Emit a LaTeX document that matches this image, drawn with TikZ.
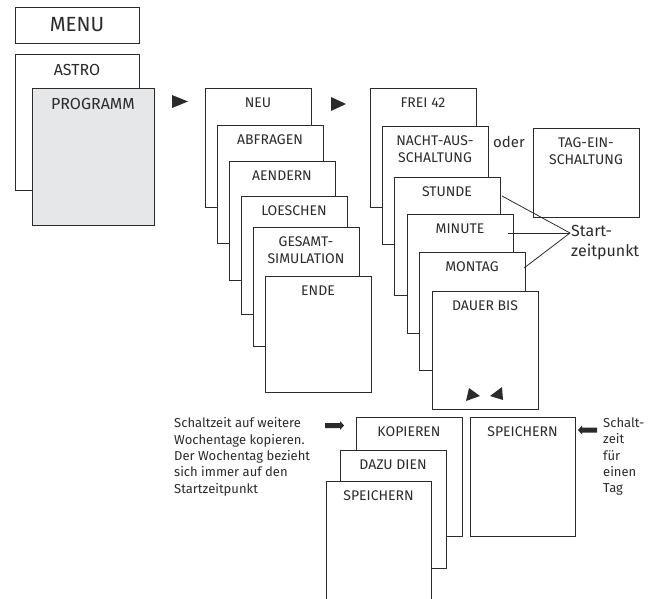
\documentclass[tikz,border=0pt]{standalone}
\usepackage{fontspec}
\setmainfont{Fira Sans}
\definecolor{ln}{HTML}{2B2B2B}
\definecolor{gfill}{HTML}{E6E7E8}
\tikzset{
  boxst/.style={draw=ln, line width=0.9pt, fill=white, rectangle, inner sep=0pt},
  lab/.style={anchor=north, inner sep=0pt, align=center, font=\fontsize{14}{17}\selectfont, text=ln},
  tri/.style={fill=ln, draw=none},
  note/.style={inner sep=0pt, text=ln, font=\fontsize{13}{16.3}\selectfont},
}
% name, x1, y1, x2, y2, label
\newcommand\mybox[6]{%
  \node[boxst, minimum width={#4-#2}, minimum height={#5-#3}] (#1) at ({(#2+#4)/2},{(#3+#5)/2}) {};
  \node[lab] (#1-t) at ({(#2+#4)/2},{#3+9.5}) {#6};
}
\begin{document}
\begin{tikzpicture}[x=1pt,y=-1pt]
\useasboundingbox (0,0) rectangle (658,599);
\clip (0,0) rectangle (658,599);
% left column
\node[boxst, minimum width=124, minimum height=36] (menu) at (77,25) {};
\node[inner sep=0pt, font=\fontsize{20.5}{24}\selectfont, text=ln] (menu-t) at (77,25) {MENU};
\node[boxst, minimum width=124, minimum height=136] (astro) at (77,122) {};
\node[lab, font=\fontsize{16}{19}\selectfont] (astro-t) at (77,64) {ASTRO};
\node[boxst, fill=gfill, minimum width=122, minimum height=137] (prog) at (93,156.5) {};
\node[lab, font=\fontsize{16}{19}\selectfont] (prog-t) at (93,98.5) {PROGRAMM};
\fill[tri] (172,95) -- (188,101.5) -- (172,108) -- cycle;
% second column
\mybox{neu}{205}{88}{311}{207}{NEU}
\mybox{abfr}{217}{125}{323}{243}{ABFRAGEN}
\mybox{aend}{229}{161}{335}{280}{AENDERN}
\mybox{loes}{241}{196}{347}{314}{LOESCHEN}
\mybox{gesamt}{253}{227}{359}{346}{GESAMT-\\SIMULATION}
\mybox{ende}{265}{276}{371}{392}{ENDE}
\fill[tri] (331,97) -- (346,104) -- (331,111) -- cycle;
% third column
\mybox{frei}{370}{88}{476}{207}{FREI 42}
\mybox{nacht}{382}{126}{488}{244}{NACHT-AUS-\\SCHALTUNG}
\mybox{stunde}{394}{177}{500}{295}{STUNDE}
\mybox{minute}{407}{214}{513}{333}{MINUTE}
\mybox{montag}{419}{252}{525}{370}{MONTAG}
\mybox{dauer}{432}{291}{538}{409}{DAUER BIS}
\mybox{tag}{533}{128}{639}{217}{TAG-EIN-\\SCHALTUNG}
\node[inner sep=0pt, font=\fontsize{15}{18}\selectfont, text=ln] (oder) at (509,142) {oder};
\fill[tri] (469,388) -- (480,396) -- (466,401) -- cycle;
\fill[tri] (502,387) -- (503,400) -- (490,396) -- cycle;
% Startzeitpunkt
\node[anchor=west, inner sep=0pt, align=left, font=\fontsize{16}{20}\selectfont, text=ln] (start) at (571,243) {Start-\\zeitpunkt};
\coordinate (conv) at (570,233);
\coordinate (c1) at (502,196);
\coordinate (c2) at (508,233);
\coordinate (c3) at (524,268);
\draw[ln, line width=0.8pt] (c1) -- (conv) -- (c3);
\draw[ln, line width=0.8pt] (c2) -- (conv);
% bottom
\mybox{kop}{356}{417}{462}{536}{KOPIEREN}
\mybox{dazu}{340}{450}{446}{568}{DAZU DIEN}
\mybox{speiL}{326}{481}{431}{640}{SPEICHERN}
\mybox{speiR}{470}{417}{575}{536}{SPEICHERN}
\fill[tri] (325,423) -- (340,423) -- (340,421) -- (344,425.5) -- (340,430) -- (340,428) -- (325,428) -- cycle;
\fill[tri] (597,427.5) -- (582,427.5) -- (582,425.5) -- (578,430) -- (582,434.5) -- (582,432.5) -- (597,432.5) -- cycle;
\node[note, anchor=north west, align=left] (noteL) at (174,417.5) {Schaltzeit auf weitere\\Wochentage kopieren.\\Der Wochentag bezieht\\sich immer auf den\\Startzeitpunkt};
\node[note, anchor=north west, align=left] (noteR) at (603,417.5) {Schalt-\\zeit\\für\\einen\\Tag};
\end{tikzpicture}
\end{document}
